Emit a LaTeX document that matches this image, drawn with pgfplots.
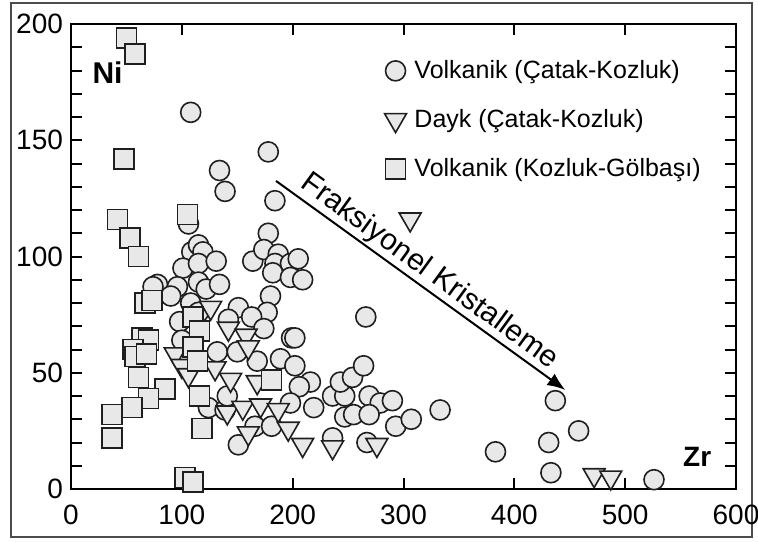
\documentclass[border=0pt]{standalone}
\usepackage{fontspec}
\setmainfont{Liberation Sans}
\usepackage{pgfplots}
\pgfplotsset{compat=1.18}
\usetikzlibrary{arrows.meta}
\definecolor{mfill}{gray}{0.91}
\definecolor{medge}{gray}{0.12}
\newcommand\ticksize{\fontsize{14}{17}\selectfont}
\newcommand\legsize{\fontsize{12.5}{15}\selectfont}
\newcommand\arrsize{\fontsize{15}{18}\selectfont}
\newcommand\nisize{\bfseries\fontsize{15}{18}\selectfont}
\newcommand\zrsize{\bfseries\fontsize{14}{17}\selectfont}

\begin{document}
\begin{tikzpicture}[x=1pt,y=1pt]
\useasboundingbox (0,0) rectangle (379,270.5);
\draw[gray!60!black, line width=0.9pt] (5.5,2) rectangle (376,269);
\begin{axis}[
  at={(35.5pt,26pt)}, anchor=south west,
  scale only axis, width=332.5pt, height=232.5pt,
  xmin=0, xmax=600, ymin=0, ymax=200,
  xtick={0,100,...,600}, ytick={0,50,...,200},
  minor y tick num=4,
  tick align=inside,
  major tick length=5.5pt, minor tick length=5.5pt,
  axis line style={line width=1pt},
  every tick/.style={line width=1pt, black},
  every tick label/.append style={font=\ticksize},
  xticklabel style={yshift=-4.5pt},
  yticklabel style={xshift=-0.5pt},
  /pgf/number format/assume math mode=true,
  clip=false,
  legend style={draw=none, fill=none, at={(0.462,0.94)}, anchor=north west,
    font=\legsize, row sep=10pt,
    /tikz/every odd column/.append style={column sep=2pt}},
  legend cell align=left,
]
% Volkanik (Catak-Kozluk) circles
\addplot[only marks, mark=*, mark size=5pt, mark options={fill=mfill, draw=medge, line width=0.8pt}] coordinates {
(108,162) (178,145) (134,137) (139,128) (184,124) (178,110) (106,114)
(109,102) (115,105) (119,102) (101,95) (115,97) (131,98) (164,98)
(174,103) (187,101) (184,97) (198,97) (205,99) (182,93) (198,91) (209,90)
(78,88) (74,87) (96,87) (115,89) (122,86) (134,88) (90,83) (108,80)
(115,76) (180,83) (177,76) (151,78) (163,74) (142,73) (174,69) (98,72)
(100,64) (199,65) (202,65) (132,59) (150,59) (168,55) (189,56) (202,53)
(216,46) (206,44) (198,37) (219,35) (236,40) (247,40) (243,46) (254,48)
(264,53) (266,74) (269,40) (279,37) (290,38) (247,31) (255,32) (269,32)
(293,27) (307,30) (333,34) (236,22) (267,20) (124,35) (139,34) (141,40)
(166,27) (181,27) (151,19) (437,38) (458,25) (431,20) (383,16) (433,7) (526,4)
};
\addlegendentry{Volkanik (Çatak-Kozluk)}
% Dayk triangles
\addplot[only marks, mark=triangle*, mark size=6.3pt, mark options={rotate=180, fill=mfill, draw=medge, line width=0.8pt}] coordinates {
(306,116) (126,78) (142,69) (158,66) (160,61) (94,58) (100,53) (106,49)
(130,52) (144,47) (168,46) (141,33) (155,35) (171,36) (187,34) (160,24)
(196,26) (209,19) (236,18) (276,19) (472,6) (487,5)
};
\addlegendentry{Dayk (Çatak-Kozluk)}
% Volkanik (Kozluk-Golbasi) squares
\addplot[only marks, mark=square*, mark size=5pt, mark options={fill=mfill, draw=medge, line width=0.8pt}] coordinates {
(50,194) (58,187) (48,142) (42,116) (53,108) (61,100) (105,118)
(67,80) (73,81) (110,74) (116,68) (64,65) (70,64) (56,60) (58,57) (68,58)
(110,61) (114,55) (61,48) (85,43) (70,39) (55,35) (37,32) (37,22)
(116,40) (118,26) (181,47) (103,5) (110,3)
};
\addlegendentry{Volkanik (Kozluk-Gölbaşı)}
\node[font=\nisize] at (axis cs:33,179) {Ni};
\node[font=\zrsize] at (axis cs:565,14) {Zr};
\draw[-{Latex[length=9pt,width=7pt]}, line width=1pt] (axis cs:185,132.5) -- (axis cs:446,42.6);
\node[rotate=-36, anchor=south, inner sep=1.5pt, font=\arrsize] at (axis cs:314,87.5) {Fraksiyonel Kristalleme};
\end{axis}
\end{tikzpicture}
\end{document}
